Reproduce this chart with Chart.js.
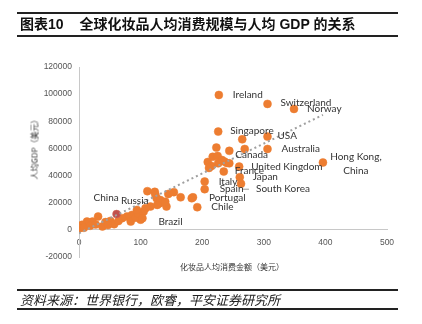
<!DOCTYPE html>
<html>
<head>
<meta charset="utf-8">
<script src="https://cdn.jsdelivr.net/npm/chart.js@4"></script>
<style>
  html, body { margin: 0; padding: 0; background: #fff; }
  body { width: 422px; height: 324px; position: relative; overflow: hidden;
         font-family: "Liberation Sans", "Noto Sans CJK SC", sans-serif; }
  #chart { position: absolute; left: 0; top: 0; }
  .head { position: absolute; left: 17px; top: 12px; width: 381px; height: 21px;
          border-top: 2px solid #222; border-bottom: 2px solid #222;
          font-size: 14px; font-weight: bold; line-height: 21px; color: #111; }
  .head .no { margin-left: 3px; margin-right: 16px; }
  .foot { position: absolute; left: 17px; top: 289px; width: 381px; height: 17px;
          border-top: 2px solid #222; border-bottom: 2px solid #222;
          font-size: 13px; font-style: italic; line-height: 17px; color: #222;
          font-family: "Noto Sans CJK SC", sans-serif; }
  .foot span { margin-left: 3px; }
  .xtitle { position: absolute; left: 132px; width: 200px; top: 261px; text-align: center;
            font-size: 8px; color: #333; font-family: "Noto Sans CJK SC", sans-serif; }
  .ytitle { position: absolute; left: -16px; top: 142px; width: 100px; text-align: center;
            font-size: 8px; color: #333; transform: rotate(-90deg);
            font-family: "Noto Sans CJK SC", sans-serif; }
</style>
</head>
<body>
<canvas id="chart" width="422" height="324"></canvas>
<div class="head"><span class="no">图表10</span>全球化妆品人均消费规模与人均 GDP 的关系</div>
<div class="xtitle">化妆品人均消费金额（美元）</div>
<div class="ytitle">人均GDP（美元）</div>
<div class="foot"><span>资料来源：世界银行，欧睿，平安证券研究所</span></div>
<script>
// labelled economies: cosmetics spend per head (USD) vs GDP per head (USD)
const countryNames = ['Ireland', 'Switzerland', 'Norway', 'Singapore', 'USA', 'Australia',
  'Canada', 'Hong Kong,\nChina', 'United Kingdom', 'France', 'Japan', 'South Korea',
  'Italy', 'Spain', 'Portugal', 'Chile', 'China', 'Russia', 'Brazil'];
const countryX = [227, 306, 349, 226, 306, 306, 244, 396, 260, 235, 261, 263,
  204, 204, 185, 192, 61, 94, 103];
const countryY = [99400, 92800, 89100, 72400, 68700, 59600, 58200, 49600, 46600, 43000, 38800, 34000,
  35600, 30000, 24000, 16700, 11600, 14700, 8600];

// remaining economies without a label
const otherX = [265, 269, 223, 209, 217, 225, 232, 240, 215, 211, 236, 226, 244,
  183, 165, 145, 131, 142, 123, 126, 111, 124, 132, 140, 154, 127, 116, 108, 105,
  86, 78, 70, 51, 43, 31, 22, 13, 5, 1, 38, 57, 84, 100, 8, 18, 27, 47, 64, 92, 96];
const otherY = [66700, 59600, 60600, 50000, 53800, 54500, 51500, 49300, 47000, 45600, 50300, 49000, 49000,
  23300, 24000, 26500, 19600, 17200, 28000, 23300, 28500, 25800, 22000, 20800, 27800, 18400, 17200, 16000, 13500,
  11000, 9800, 8600, 6600, 5700, 9800, 6100, 6100, 3700, 1200, 2500, 4200, 6100, 7500, 1500, 3000, 4000, 3500, 6500, 9000, 12000];

// linear trend line end points
const trendX = [0, 396];
const trendY = [-2500, 84700];

const xTicks = [0, 100, 200, 300, 400, 500];
const yTicks = [-20000, 0, 20000, 40000, 60000, 80000, 100000, 120000];

// label placement, pixels from the dot centre
const labelDx = [14, 13, 13, 12, 10, 14, 6, 33, 12, 11, 13, 15, 14, 15, 16, 14, -23, -16, 16];
const labelDy = [0, -1, 0, -1, -1, 0, 4, -6, 0, -1, 0, 5, 0, 0, 0, 0, -16, -9, 4];

const ORANGE = '#ed7d31';
const RED = '#c0504d';

const countryLabels = {
  id: 'countryLabels',
  afterDatasetsDraw(chart) {
    const { ctx, scales: { x, y } } = chart;
    ctx.save();
    ctx.font = '10px Lato';
    ctx.fillStyle = '#333';
    ctx.textBaseline = 'middle';
    countryNames.forEach((name, i) => {
      const px = x.getPixelForValue(countryX[i]);
      const py = y.getPixelForValue(countryY[i]);
      const lines = name.split('\n');
      if (lines.length > 1) {
        ctx.textAlign = 'center';
        lines.forEach((line, j) => ctx.fillText(line, px + labelDx[i], py + labelDy[i] + j * 14));
      } else {
        ctx.textAlign = 'left';
        ctx.fillText(name, px + labelDx[i], py + labelDy[i]);
      }
      if (name === 'South Korea') {
        ctx.strokeStyle = '#999';
        ctx.lineWidth = 1;
        ctx.beginPath();
        ctx.moveTo(px + 1, py + 5.5);
        ctx.lineTo(px + 8, py + 5.5);
        ctx.stroke();
      }
    });
    ctx.restore();
  }
};

new Chart(document.getElementById('chart'), {
  type: 'scatter',
  data: {
    datasets: [{
      label: 'trend',
      data: trendX.map((v, i) => ({ x: v, y: trendY[i] })),
      showLine: true,
      borderColor: '#a0a0a0',
      borderWidth: 2,
      borderDash: [2, 3],
      pointRadius: 0,
      order: 0
    }, {
      label: 'countries',
      data: countryX.map((v, i) => ({ x: v, y: countryY[i] })),
      backgroundColor: countryNames.map(n => n === 'China' ? RED : ORANGE),
      borderColor: countryNames.map(n => n === 'China' ? '#d86a5a' : ORANGE),
      borderWidth: 0.5,
      pointRadius: 4,
      order: 1
    }, {
      label: 'others',
      data: otherX.map((v, i) => ({ x: v, y: otherY[i] })),
      backgroundColor: ORANGE,
      borderColor: ORANGE,
      borderWidth: 0.5,
      pointRadius: 4,
      order: 2
    }]
  },
  plugins: [countryLabels],
  options: {
    responsive: false,
    animation: false,
    layout: { padding: { left: 0, right: 35, top: 67, bottom: 67 } },
    plugins: { legend: { display: false }, tooltip: { enabled: false } },
    scales: {
      x: {
        type: 'linear',
        position: { y: 0 },
        min: 0, max: 500,
        afterBuildTicks: (s) => { s.ticks = xTicks.map(v => ({ value: v })); },
        grid: { display: false, drawTicks: false },
        border: { color: '#c8c8c8', width: 1 },
        ticks: { padding: 8, color: '#555', font: { family: 'Liberation Sans', size: 8.5 },
                 maxRotation: 0, callback: v => String(v) }
      },
      y: {
        type: 'linear',
        min: -20000, max: 120000,
        afterBuildTicks: (s) => { s.ticks = yTicks.map(v => ({ value: v })); },
        afterFit: (s) => { s.width = 79; },
        grid: { display: false, drawTicks: false },
        border: { color: '#c8c8c8', width: 1 },
        ticks: { padding: 7, color: '#555', font: { family: 'Liberation Sans', size: 8.5 },
                 callback: v => String(v) }
      }
    }
  }
});
</script>
</body>
</html>
